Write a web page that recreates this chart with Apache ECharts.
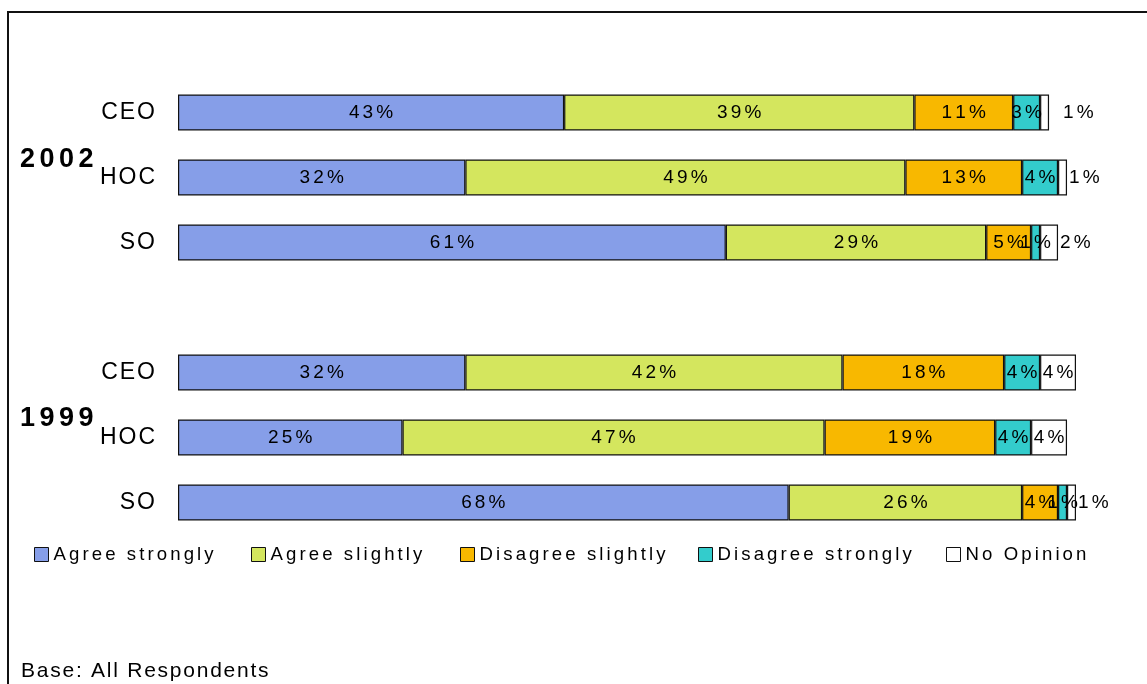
<!DOCTYPE html>
<html>
<head>
<meta charset="utf-8">
<script src="https://cdn.jsdelivr.net/npm/echarts@6/dist/echarts.min.js"></script>
<style>
  html, body { margin: 0; padding: 0; background: #ffffff; }
  #chart { width: 1147px; height: 684px; }
</style>
</head>
<body>
<div id="chart"></div>
<script>
// Survey groups and respondent roles (rows, top to bottom within each group)
const years = ['2002', '1999'];
const roles = ['CEO', 'HOC', 'SO'];
const seriesNames = ['Agree strongly', 'Agree slightly', 'Disagree slightly', 'Disagree strongly', 'No Opinion'];

// Percentages per row: CEO, HOC, SO of 2002, then CEO, HOC, SO of 1999
const agreeStrongly    = [43, 32, 61, 32, 25, 68];
const agreeSlightly    = [39, 49, 29, 42, 47, 26];
const disagreeSlightly = [11, 13, 5, 18, 19, 4];
const disagreeStrongly = [3, 4, 1, 4, 4, 1];
const noOpinion        = [1, 1, 2, 4, 4, 1];

const baseNote = 'Base: All Respondents';

// ---- presentation ----
const FONT = '"Liberation Sans", Arial, sans-serif';
const colors = ['#869ee8', '#d4e65e', '#f8b800', '#33cccc', '#ffffff'];
const HAIR = '\u200A';
const SIXTH = '\u2006';

// wide character tracking, as in the printed report
function spaced(s, sep) { return Array.from(String(s)).join(sep); }

// 7 category slots: 3 rows of 2002, one empty separator slot, 3 rows of 1999
const categories = [...roles, '', ...roles];
function withGap(arr) { return [...arr.slice(0, 3), '-', ...arr.slice(3)]; }

const allValues = [agreeStrongly, agreeSlightly, disagreeSlightly, disagreeStrongly, noOpinion];

// small "No Opinion" values are labelled just outside the bar end
const outsideGap = { 0: 14 };

const series = allValues.map((vals, si) => ({
  name: seriesNames[si],
  type: 'bar',
  stack: 'total',
  barWidth: 36,
  itemStyle: { color: colors[si], borderColor: '#111', borderWidth: 1.2 },
  label: {
    show: true,
    position: 'inside',
    color: '#000',
    fontFamily: FONT,
    fontSize: 19,
    formatter: p => spaced(p.value + '%', SIXTH)
  },
  data: withGap(vals).map((v, i) => {
    if (v === '-') return '-';
    if (si === 4 && v < 3) {
      return { value: v, label: { position: 'right', distance: outsideGap[i] !== undefined ? outsideGap[i] : 2 } };
    }
    return v;
  })
}));

const legendLeft = [34, 251, 460, 698, 946];
const legends = seriesNames.map((n, i) => ({
  data: [n],
  left: legendLeft[i],
  top: 545,
  padding: 0,
  itemWidth: 14,
  itemHeight: 14,
  icon: 'rect',
  itemStyle: { borderColor: '#111', borderWidth: 1 },
  selectedMode: false,
  formatter: name => spaced(name, SIXTH),
  textStyle: { fontFamily: FONT, fontSize: 18.6, color: '#000' }
}));

const chart = echarts.init(document.getElementById('chart'), null, { renderer: 'canvas' });
chart.setOption({
  animation: false,
  backgroundColor: '#ffffff',
  grid: { left: 178, right: 71, top: 80, height: 455, containLabel: false },
  xAxis: { type: 'value', min: 0, max: 100, show: false },
  yAxis: {
    type: 'category',
    inverse: true,
    data: categories,
    axisLine: { show: false },
    axisTick: { show: false },
    splitLine: { show: false },
    axisLabel: {
      margin: 23,
      color: '#000',
      fontFamily: FONT,
      fontSize: 23,
      formatter: v => spaced(v, HAIR)
    }
  },
  legend: legends,
  series: series,
  graphic: [
    { type: 'rect', silent: true, shape: { x: 8, y: 12, width: 1200, height: 720 },
      style: { fill: 'none', stroke: '#111', lineWidth: 2 } },
    { type: 'text', x: 20, y: 160, style: { text: spaced(years[0], SIXTH), fill: '#000', font: 'bold 27px ' + FONT, verticalAlign: 'middle' } },
    { type: 'text', x: 20, y: 419, style: { text: spaced(years[1], SIXTH), fill: '#000', font: 'bold 27px ' + FONT, verticalAlign: 'middle' } },
    { type: 'text', x: 21, y: 671, style: { text: spaced(baseNote, HAIR), fill: '#000', font: '21px ' + FONT, verticalAlign: 'middle' } }
  ]
});
</script>
</body>
</html>
